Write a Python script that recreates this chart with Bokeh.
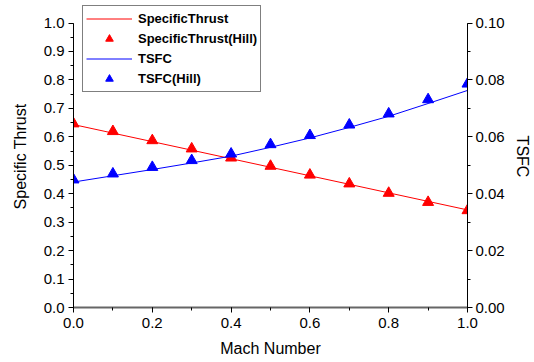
from bokeh.plotting import figure
from bokeh.models import (Range1d, LinearAxis, SingleIntervalTicker, NumeralTickFormatter,
                          Legend, LegendItem, ColumnDataSource)
from bokeh.embed import file_html
from bokeh.resources import INLINE

mach = [0.0, 0.1, 0.2, 0.3, 0.4, 0.5, 0.6, 0.7, 0.8, 0.9, 1.0]
specific_thrust = [0.643, 0.613, 0.583, 0.553, 0.523, 0.493, 0.463, 0.433, 0.403, 0.373, 0.343]
specific_thrust_hill = [0.646, 0.619, 0.587, 0.558, 0.526, 0.497, 0.466, 0.435, 0.402, 0.370, 0.341]
tsfc = [0.0441, 0.0463, 0.0485, 0.0508, 0.0532, 0.0563, 0.0596, 0.0633, 0.0672, 0.0717, 0.0763]
tsfc_hill = [0.0449, 0.0470, 0.0493, 0.0517, 0.0540, 0.0573, 0.0605, 0.0642, 0.0681, 0.0731, 0.0786]

FONT = "Liberation Sans"
TOP_PAD = 302 / 284.5  # frame extends a little above 1.0 so the legend fits

p = figure(width=534, height=362, output_backend="svg", toolbar_location=None,
           x_range=Range1d(0, 1.0), y_range=Range1d(0, 1.0 * TOP_PAD),
           min_border_left=73, min_border_right=67, min_border_top=5, min_border_bottom=55,
           x_axis_label="Mach Number", y_axis_label="Specific Thrust")
p.extra_y_ranges = {"tsfc": Range1d(0, 0.1 * TOP_PAD)}
p.outline_line_color = None
p.grid.visible = False
p.background_fill_color = "white"
p.border_fill_color = "white"

src = ColumnDataSource(dict(x=mach, st=specific_thrust, sth=specific_thrust_hill,
                            ts=tsfc, tsh=tsfc_hill))

r1 = p.line("x", "st", source=src, line_color="#ff0000", line_width=1)
r2 = p.scatter("x", "sth", source=src, marker="triangle", size=11,
               fill_color="#ff0000", line_color="#ff0000")
r3 = p.line("x", "ts", source=src, line_color="#0000ff", line_width=1, y_range_name="tsfc")
r4 = p.scatter("x", "tsh", source=src, marker="triangle", size=11,
               fill_color="#0000ff", line_color="#0000ff", y_range_name="tsfc")

right = LinearAxis(y_range_name="tsfc", axis_label="TSFC")
p.add_layout(right, "right")

p.xaxis.ticker = SingleIntervalTicker(interval=0.2, num_minor_ticks=2)
p.yaxis[0].ticker = SingleIntervalTicker(interval=0.1, num_minor_ticks=2)
right.ticker = SingleIntervalTicker(interval=0.02, num_minor_ticks=2)
p.xaxis.formatter = NumeralTickFormatter(format="0.0")
p.yaxis[0].formatter = NumeralTickFormatter(format="0.0")
right.formatter = NumeralTickFormatter(format="0.00")
p.yaxis[0].bounds = (0, 1.0)
right.bounds = (0, 0.1)

for ax in [p.xaxis[0], p.yaxis[0], right]:
    ax.axis_line_color = "black"
    ax.axis_line_width = 1
    ax.major_tick_line_color = "black"
    ax.minor_tick_line_color = "black"
    ax.major_tick_in = 0
    ax.major_tick_out = 5
    ax.minor_tick_in = 0
    ax.minor_tick_out = 3
    ax.major_label_text_font = FONT
    ax.major_label_text_font_size = "15px"
    ax.major_label_text_color = "black"
    ax.axis_label_text_font = FONT
    ax.axis_label_text_font_size = "16px"
    ax.axis_label_text_font_style = "normal"
    ax.axis_label_text_color = "black"

p.xaxis.axis_line_color = "#666666"
p.xaxis.axis_line_width = 2
p.xaxis.major_label_standoff = 5
p.xaxis.axis_label_standoff = 9
p.yaxis[0].major_label_standoff = 4
p.yaxis[0].axis_label_standoff = 12
right.major_label_standoff = 3
right.axis_label_standoff = 6

legend = Legend(items=[
    LegendItem(label="SpecificThrust", renderers=[r1]),
    LegendItem(label="SpecificThrust(Hill)", renderers=[r2]),
    LegendItem(label="TSFC", renderers=[r3]),
    LegendItem(label="TSFC(Hill)", renderers=[r4]),
], location=(9, 215))
legend.label_text_font = FONT
legend.label_text_font_style = "bold"
legend.label_text_font_size = "13px"
legend.label_text_color = "black"
legend.border_line_color = "black"
legend.border_line_width = 1
legend.background_fill_alpha = 1
legend.glyph_width = 46
legend.glyph_height = 19
legend.label_height = 19
legend.spacing = 1
legend.padding = 3
legend.margin = 0
legend.label_standoff = 6
p.add_layout(legend, "center")

open("out.html", "w").write(file_html(p, INLINE))
